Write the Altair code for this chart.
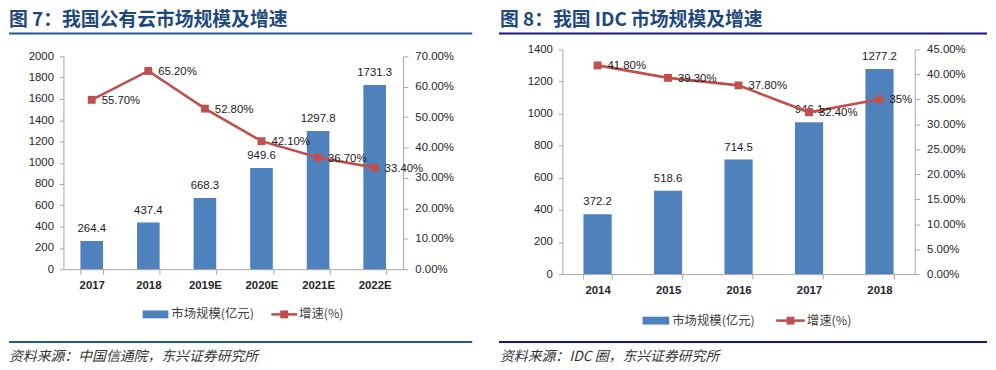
import altair as alt
import pandas as pd

# ---------------- data ----------------
cloud_years = ["2017", "2018", "2019E", "2020E", "2021E", "2022E"]
cloud_size = [264.4, 437.4, 668.3, 949.6, 1297.8, 1731.3]
cloud_growth = [0.557, 0.652, 0.528, 0.421, 0.367, 0.334]
cloud_growth_labels = ["55.70%", "65.20%", "52.80%", "42.10%", "36.70%", "33.40%"]

idc_years = ["2014", "2015", "2016", "2017", "2018"]
idc_size = [372.2, 518.6, 714.5, 946.1, 1277.2]
idc_growth = [0.418, 0.393, 0.378, 0.324, 0.35]
idc_growth_labels = ["41.80%", "39.30%", "37.80%", "32.40%", "35%"]

left_title = "图 7：我国公有云市场规模及增速"
right_title = "图 8：我国 IDC 市场规模及增速"
left_source = "资料来源：中国信通院，东兴证券研究所"
right_source = "资料来源：IDC 圈，东兴证券研究所"
legend_bar = "市场规模(亿元)"
legend_line = "增速(%)"

BAR = "#4F81BD"
LINE = "#C0504D"
TITLE_C = "#1F497D"
AXIS_C = "#A6A6A6"
TXT = "#1a1a1a"
CJK = "Noto Sans CJK SC"
LAT = "Liberation Sans"

ann = pd.DataFrame({"k": [0]})


def txt(x, y, text, size, color, weight="normal", style="normal", font=CJK):
    return alt.Chart(ann).mark_text(
        text=text, align="left", baseline="middle", font=font, fontSize=size,
        color=color, fontWeight=weight, fontStyle=style
    ).encode(x=alt.value(x), y=alt.value(y))


def hrule(x1, x2, y, color, w=2, op=1):
    return alt.Chart(ann).mark_rule(color=color, strokeWidth=w, opacity=op).encode(
        x=alt.value(x1), x2=alt.value(x2), y=alt.value(y))


def panel(years, size, growth, glabels, w, h, top, ymax, ystep, gmax, gstep,
          title, source, rule_color, L):
    df = pd.DataFrame({"year": years, "size": size, "growth": growth,
                       "glabel": glabels,
                       "slabel": [f"{v:.1f}" for v in size]})
    x = alt.X("year:N", sort=years,
              scale=alt.Scale(paddingInner=0.6, paddingOuter=0.3),
              axis=alt.Axis(title=None, labelAngle=0, tickBand="extent",
                            labelFontWeight="bold", tickSize=5, labelPadding=6,
                            domainColor=AXIS_C, tickColor=AXIS_C))
    ybar = alt.Y("size:Q",
                 scale=alt.Scale(domain=[0, ymax], nice=False, zero=True, range=[h, top]),
                 axis=alt.Axis(title=None, orient="left", grid=False, format="d",
                               values=list(range(0, ymax + 1, ystep)),
                               tickSize=4, labelPadding=6))
    nticks = int(round(gmax / gstep))
    yline = alt.Y("growth:Q",
                  scale=alt.Scale(domain=[0, gmax], nice=False, zero=True, range=[h, top]),
                  axis=alt.Axis(title=None, orient="right", grid=False, format=".2%",
                                values=[round(i * gstep, 4) for i in range(nticks + 1)],
                                tickSize=5, labelPadding=7))
    base = alt.Chart(df)
    bars = alt.layer(
        base.mark_bar(color=BAR).encode(x=x, y=ybar),
        base.mark_text(baseline="middle", dy=-12, font=LAT, fontSize=11.5, color=TXT)
        .encode(x=x, y=ybar, text="slabel:N"),
    )
    lines = alt.layer(
        base.mark_line(color=LINE, strokeWidth=2.6).encode(x=x, y=yline),
        base.mark_point(shape="square", filled=True, size=64, opacity=1, color=LINE)
        .encode(x=x, y=yline),
        base.mark_text(align="left", baseline="middle", dx=10, dy=1, font=LAT,
                       fontSize=11.5, color=TXT).encode(x=x, y=yline, text="glabel:N"),
    )
    extras = alt.layer(
        hrule(L["rx1"], L["rx2"], -40, "#ffffff", 0.5, 0),
        txt(L["tx"], L["ty"], title, 19, TITLE_C, weight="bold"),
        hrule(L["rx1"], L["rx2"], L["r1y"], rule_color),
        hrule(L["rx1"], L["rx2"], L["r2y"], rule_color),
        txt(L["sx"], L["sy"], source, 14, "#333333", style="italic"),
        alt.Chart(ann).mark_rect(color=BAR).encode(
            x=alt.value(L["lb1"]), x2=alt.value(L["lb2"]),
            y=alt.value(L["ly"] - 4), y2=alt.value(L["ly"] + 4)),
        txt(L["lbt"], L["ly"], legend_bar, 12.5, "#404040"),
        hrule(L["ll1"], L["ll2"], L["ly"], LINE, 2.6),
        alt.Chart(ann).mark_point(shape="square", filled=True, size=64, opacity=1,
                                  color=LINE).encode(
            x=alt.value((L["ll1"] + L["ll2"]) / 2), y=alt.value(L["ly"])),
        txt(L["llt"], L["ly"], legend_line, 12.5, "#404040"),
    )
    return alt.layer(bars, lines, extras).resolve_scale(y="independent").properties(
        width=w, height=h)


# both panels share the same origin: page y = 48
left_layout = dict(tx=-55, ty=-29.5, rx1=-55, rx2=413, r1y=-16, r2y=295.5,
                   sx=-55, sy=310.3, ly=267.7, lb1=80, lb2=106, lbt=109,
                   ll1=210, ll2=236, llt=238)
right_layout = dict(tx=-63, ty=-29.5, rx1=-64, rx2=429, r1y=-16, r2y=295.5,
                    sx=-63, sy=310.3, ly=274, lb1=81, lb2=108, lbt=111,
                    ll1=216, ll2=245, llt=247)

left = panel(cloud_years, cloud_size, cloud_growth, cloud_growth_labels,
             343, 222, 7, 2000, 200, 0.7, 0.1, left_title, left_source, "#1F5A96",
             left_layout)
right = panel(idc_years, idc_size, idc_growth, idc_growth_labels,
              356, 227, 0, 1400, 200, 0.45, 0.05, right_title, right_source, "#14148A",
              right_layout)

chart = alt.hconcat(left, right, spacing=25).properties(padding=0).configure_axis(
    labelFont=LAT, labelFontSize=11.5, labelColor="#262626",
    domainColor=AXIS_C, tickColor=AXIS_C, grid=False
).configure_view(strokeWidth=0)

chart.save("out.html", embed_options={"renderer": "svg", "actions": False})
